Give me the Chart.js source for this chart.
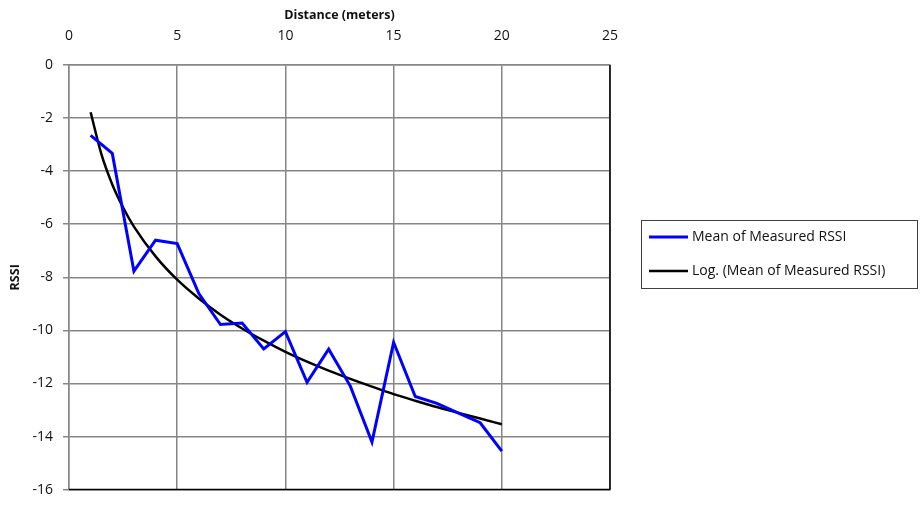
<!DOCTYPE html>
<html>
<head>
<meta charset="utf-8">
<script src="https://cdn.jsdelivr.net/npm/chart.js@4/dist/chart.umd.min.js"></script>
<style>
  html, body { margin: 0; padding: 0; background: #fff; }
  #wrap { width: 923px; height: 508px; position: relative; }
</style>
</head>
<body>
<div id="wrap"><canvas id="c" width="923" height="508"></canvas></div>
<script>
// Distance from the transmitter, metres
const distance = [1, 2, 3, 4, 5, 6, 7, 8, 9, 10, 11, 12, 13, 14, 15, 16, 17, 18, 19, 20];
// Mean of the RSSI readings taken at each distance
const meanRssi = [-2.65, -3.33, -7.77, -6.6, -6.73, -8.61, -9.78, -9.72, -10.7, -10.05,
                  -11.96, -10.71, -12.1, -14.21, -10.45, -12.49, -12.75, -13.12, -13.48, -14.55];
// Logarithmic trend line, sampled along the distance axis
const trendDistance = [1, 1.5, 2, 2.5, 3, 4, 5, 6, 7, 8, 9, 10, 11, 12, 13, 14, 15, 16, 17, 18, 19, 20];
const trendRssi = [-1.78, -3.37, -4.50, -5.37, -6.09, -7.21, -8.09, -8.80, -9.41, -9.93, -10.39,
                   -10.81, -11.18, -11.52, -11.83, -12.12, -12.40, -12.65, -12.89, -13.11, -13.32, -13.54];
// Axis tick values
const xTicks = [0, 5, 10, 15, 20, 25];
const yTicks = [0, -2, -4, -6, -8, -10, -12, -14, -16];

const FONT = "'Open Sans', 'Liberation Sans', sans-serif";
const GRID = 'rgb(134,134,134)';

const toPoints = (xs, ys) => xs.map((x, i) => ({ x: x, y: ys[i] }));

// Plot-area frame: dark right and bottom edges
const framePlugin = {
  id: 'frame',
  beforeDatasetsDraw(chart) {
    const { ctx, chartArea: a } = chart;
    ctx.save();
    ctx.strokeStyle = '#000';
    ctx.lineWidth = 1.5;
    ctx.beginPath();
    ctx.moveTo(a.right, a.top);
    ctx.lineTo(a.right, a.bottom);
    ctx.lineTo(a.left, a.bottom);
    ctx.stroke();
    ctx.restore();
  }
};

// Boxed legend to the right of the plot
const boxLegend = {
  id: 'boxLegend',
  afterDraw(chart) {
    const ctx = chart.ctx;
    const bx = 641.5, by = 220.5, bw = 276, bh = 68;
    ctx.save();
    ctx.strokeStyle = '#404040';
    ctx.lineWidth = 1;
    ctx.strokeRect(bx, by, bw, bh);
    ctx.font = '14px ' + FONT;
    ctx.textBaseline = 'middle';
    ctx.fillStyle = '#111';
    chart.data.datasets.forEach((ds, i) => {
      const y = 237 + i * 34;
      ctx.strokeStyle = ds.borderColor;
      ctx.lineWidth = ds.borderWidth;
      ctx.beginPath();
      ctx.moveTo(649, y);
      ctx.lineTo(688, y);
      ctx.stroke();
      ctx.fillText(ds.label, 692, y);
    });
    ctx.restore();
  }
};

new Chart(document.getElementById('c'), {
  type: 'scatter',
  data: {
    datasets: [
      {
        label: 'Mean of Measured RSSI',
        data: toPoints(distance, meanRssi),
        showLine: true,
        borderColor: '#0000ff',
        borderWidth: 3,
        pointRadius: 0,
        tension: 0,
        borderJoinStyle: 'miter'
      },
      {
        label: 'Log. (Mean of Measured RSSI)',
        data: toPoints(trendDistance, trendRssi),
        showLine: true,
        borderColor: '#000000',
        borderWidth: 2.5,
        pointRadius: 0,
        cubicInterpolationMode: 'monotone'
      }
    ]
  },
  options: {
    responsive: false,
    animation: false,
    events: [],
    layout: { padding: { left: 0, top: 0, right: 313, bottom: 10 } },
    plugins: { legend: { display: false }, tooltip: { enabled: false } },
    scales: {
      x: {
        type: 'linear',
        position: 'top',
        min: 0,
        max: 25,
        afterBuildTicks: s => { s.ticks = xTicks.map(v => ({ value: v })); },
        afterFit: s => { s.height = 65; },
        grid: { color: GRID, lineWidth: 1.5, drawTicks: false },
        border: { color: GRID, width: 1.5 },
        ticks: { font: { family: FONT, size: 14 }, color: '#111', padding: 21 },
        title: {
          display: true,
          text: 'Distance (meters)',
          font: { family: FONT, size: 12.5, weight: 'bold' },
          color: '#111',
          padding: { top: 8, bottom: 0 }
        }
      },
      y: {
        type: 'linear',
        min: -16,
        max: 0,
        afterBuildTicks: s => { s.ticks = yTicks.map(v => ({ value: v })); },
        afterFit: s => { s.width = 69; },
        grid: { color: GRID, lineWidth: 1.5, tickLength: 6 },
        border: { color: GRID, width: 1.5 },
        ticks: { font: { family: FONT, size: 14 }, color: '#111', padding: 10 },
        title: {
          display: true,
          text: 'RSSI',
          font: { family: FONT, size: 12.5, weight: 'bold' },
          color: '#111',
          padding: { top: 8, bottom: 0 }
        }
      }
    }
  },
  plugins: [framePlugin, boxLegend]
});
</script>
</body>
</html>
